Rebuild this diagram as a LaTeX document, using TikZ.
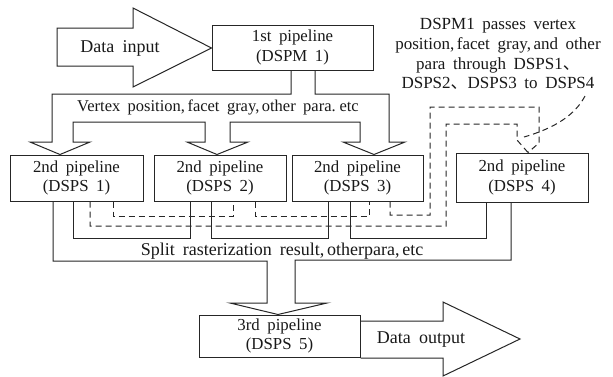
\documentclass[tikz,border=0pt]{standalone}
\usepackage{fontspec}
\setmainfont{Liberation Serif}[WordSpace={1.8}]
\newfontfamily\cjk{Noto Sans CJK SC}
\begin{document}
\begin{tikzpicture}[x=1pt,y=-1pt,
  ln/.style={draw=black!85,line width=1pt,line join=miter},
  dsh/.style={draw=black!85,line width=1pt,dash pattern=on 6pt off 4pt},
  pbox/.style={ln,rectangle,inner sep=0pt,align=center,text=black!90,
    font=\fontsize{16.8}{19.5}\selectfont},
  lbl/.style={inner sep=0pt,align=center,text=black!90,font=\fontsize{17.5}{20}\selectfont}]
\useasboundingbox (0,0) rectangle (613,376);
\fill[white] (0,0) rectangle (613,376);
% boxes
\node[pbox,minimum width=161pt,minimum height=45pt] (dspm) at (292.5,47.5) {1st pipeline\\(DSPM 1)};
\node[pbox,minimum width=133pt,minimum height=46pt] (s1) at (76.5,178) {2nd pipeline\\(DSPS 1)};
\node[pbox,minimum width=132pt,minimum height=46pt] (s2) at (220,178) {2nd pipeline\\(DSPS 2)};
\node[pbox,minimum width=131pt,minimum height=46pt] (s3) at (357.5,178) {2nd pipeline\\(DSPS 3)};
\node[pbox,minimum width=132pt,minimum height=49pt] (s4) at (522,177.5) {2nd pipeline\\(DSPS 4)};
\node[pbox,minimum width=161pt,minimum height=42pt] (s5) at (279.5,336) {3rd pipeline\\(DSPS 5)};
% data input arrow
\draw[ln] (57,28) -- (133,28) -- (133,8) -- (dspm.west |- 0,48) -- (133,87) -- (133,66) -- (57,66) -- cycle;
\node[lbl,font=\fontsize{18}{20}\selectfont] (din) at (120,48) {Data input};
% data output arrow
\draw[ln] (s5.east |- 0,321) -- (443,321) -- (443,302) -- (520,339) -- (443,376) -- (443,358) -- (s5.east |- 0,358);
\node[lbl,font=\fontsize{18}{20}\selectfont] (dout) at (421,340) {Data output};
% distribution arrow
\draw[ln] (291,0 |- dspm.south) -- (291,94) -- (52,94) -- (52,142) -- (30,142) -- (60,0 |- s1.north) -- (90,142) -- (73,142) -- (73,122)
  -- (205,122) -- (205,142) -- (187,142) -- (217,0 |- s2.north) -- (248,142) -- (230,142) -- (230,122)
  -- (360,122) -- (360,142) -- (343,142) -- (374,0 |- s3.north) -- (405,142) -- (389,142) -- (389,94) -- (315,94) -- (315,0 |- dspm.south);
\node[lbl,font=\fontsize{16.5}{20}\selectfont] (vtx) at (218,107) {Vertex position,\hspace{-0.3em} facet gray,\hspace{-0.3em} other para.\hspace{-0.3em} etc};
% collection arrow
\draw[ln] (53,0 |- s1.south) -- (53,261) -- (267,261) -- (267,303) -- (230,303) -- (278,0 |- s5.north) -- (327,303) -- (295,303) -- (295,260) -- (511,260) -- (511,0 |- s4.south);
\draw[ln] (73,0 |- s1.south) -- (73,238) -- (190,238) -- (190,0 |- s2.south);
\draw[ln] (211,0 |- s2.south) -- (211,238) -- (328,238) -- (328,0 |- s3.south);
\draw[ln] (350,0 |- s3.south) -- (350,238) -- (486,238) -- (486,0 |- s4.south);
\node[lbl,font=\fontsize{18}{20}\selectfont] (split) at (282,251) {Split rasterization result,\hspace{-0.3em} otherpara,\hspace{-0.3em} etc};
% dashed pass-through
\coordinate (m4) at (528,0 |- s4.north);
\draw[dsh] (90,0 |- s1.south) -- (90,226) -- (446,226) -- (446,124) -- (517,124) -- (517,140) -- (m4);
\draw[dsh] (113,0 |- s1.south) -- (113,216) -- (233,216) -- (233,0 |- s2.south);
\draw[dsh] (255,0 |- s2.south) -- (255,216) -- (369,216) -- (369,0 |- s3.south);
\draw[dsh] (390,0 |- s3.south) -- (390,215) -- (430,215) -- (430,107) -- (539,107) -- (539,143) -- (m4);
% callout
\node[lbl,font=\fontsize{17}{19.8}\selectfont] (note) at (498,54) {DSPM1 passes vertex\\position,\hspace{-0.3em} facet gray,\hspace{-0.3em} and other\\para through DSPS1{\cjk 、}\\DSPS2{\cjk 、}DSPS3 to DSPS4};
\coordinate (ne) at (524,137);
\draw[dsh] (585,96) .. controls (575,115) and (555,128) .. (ne);
\end{tikzpicture}
\end{document}
